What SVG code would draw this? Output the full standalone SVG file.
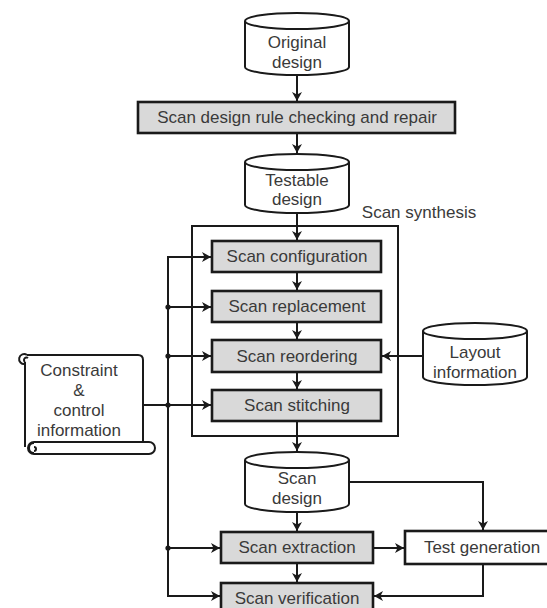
<svg xmlns="http://www.w3.org/2000/svg" width="547" height="608" viewBox="0 0 547 608">
<defs>
<style>
.t{font-family:"Liberation Sans",Arial,sans-serif;font-size:17px;fill:#3a3a3a;text-anchor:middle}
.box{fill:#d9d9d9;stroke:#1a1a1a;stroke-width:2.6}
.wbox{fill:#fff;stroke:#1a1a1a;stroke-width:2.6}
.cyl{fill:#fff;stroke:#1a1a1a;stroke-width:2}
.ln{fill:none;stroke:#1a1a1a;stroke-width:2}
.dot{fill:#1a1a1a}
</style>
<marker id="ah" markerUnits="userSpaceOnUse" markerWidth="10" markerHeight="10" refX="9" refY="5" orient="auto">
<path d="M0,0 L9,5 L0,10 L2.5,5 Z" fill="#1a1a1a"/>
</marker>
</defs>
<rect width="547" height="608" fill="#fff"/>

<g id="scan-synthesis">
<rect x="192" y="226" width="206" height="210" fill="none" stroke="#1a1a1a" stroke-width="2"/>
<text class="t" x="419" y="218">Scan synthesis</text>
</g>

<g id="connectors">
<line class="ln" x1="297" y1="75" x2="297" y2="101" marker-end="url(#ah)"/>
<line class="ln" x1="297" y1="133" x2="297" y2="153" marker-end="url(#ah)"/>
<line class="ln" x1="297" y1="213" x2="297" y2="240" marker-end="url(#ah)"/>
<line class="ln" x1="297" y1="272" x2="297" y2="290" marker-end="url(#ah)"/>
<line class="ln" x1="297" y1="322" x2="297" y2="339" marker-end="url(#ah)"/>
<line class="ln" x1="297" y1="372" x2="297" y2="389" marker-end="url(#ah)"/>
<line class="ln" x1="297" y1="421" x2="297" y2="451" marker-end="url(#ah)"/>
<line class="ln" x1="297" y1="512" x2="297" y2="531" marker-end="url(#ah)"/>
<line class="ln" x1="297" y1="563" x2="297" y2="582" marker-end="url(#ah)"/>
<line class="ln" x1="423" y1="356" x2="382" y2="356" marker-end="url(#ah)"/>
<path class="ln" d="M349,482 H483 V530" marker-end="url(#ah)"/>
<line class="ln" x1="373" y1="548" x2="404" y2="548" marker-end="url(#ah)"/>
<path class="ln" d="M483,564 V596 H374" marker-end="url(#ah)"/>
<path class="ln" d="M168,257 V596 H220" marker-end="url(#ah)"/>
<line class="ln" x1="167" y1="257" x2="211" y2="257" marker-end="url(#ah)"/>
<line class="ln" x1="168" y1="307" x2="211" y2="307" marker-end="url(#ah)"/>
<line class="ln" x1="168" y1="356" x2="211" y2="356" marker-end="url(#ah)"/>
<line class="ln" x1="143" y1="405" x2="211" y2="405" marker-end="url(#ah)"/>
<line class="ln" x1="168" y1="548" x2="220" y2="548" marker-end="url(#ah)"/>
<circle class="dot" cx="168" cy="307" r="2.6"/>
<circle class="dot" cx="168" cy="356" r="2.6"/>
<circle class="dot" cx="168" cy="405" r="2.6"/>
<circle class="dot" cx="168" cy="548" r="2.6"/>
</g>

<g id="original-design">
<path class="cyl" d="M245,21 A52,8 0 0 1 349,21 L349,67 A52,8 0 0 1 245,67 Z M245,21 A52,8 0 0 0 349,21"/>
<text class="t" x="297" y="48">Original</text>
<text class="t" x="297" y="68">design</text>
</g>

<g id="drc">
<rect class="box" x="138" y="102" width="317" height="31"/>
<text class="t" x="297" y="123">Scan design rule checking and repair</text>
</g>

<g id="testable-design">
<path class="cyl" d="M245,162 A52,8 0 0 1 349,162 L349,205 A52,8 0 0 1 245,205 Z M245,162 A52,8 0 0 0 349,162"/>
<text class="t" x="297" y="186">Testable</text>
<text class="t" x="297" y="205">design</text>
</g>

<g id="scan-configuration">
<rect class="box" x="212" y="241" width="169" height="31"/>
<text class="t" x="297" y="262">Scan configuration</text>
</g>

<g id="scan-replacement">
<rect class="box" x="212" y="291" width="169" height="31"/>
<text class="t" x="297" y="312">Scan replacement</text>
</g>

<g id="scan-reordering">
<rect class="box" x="212" y="340" width="169" height="32"/>
<text class="t" x="297" y="362">Scan reordering</text>
</g>

<g id="scan-stitching">
<rect class="box" x="212" y="390" width="169" height="31"/>
<text class="t" x="297" y="411">Scan stitching</text>
</g>

<g id="layout-information">
<path class="cyl" d="M423,331 A52,8 0 0 1 527,331 L527,377 A52,8 0 0 1 423,377 Z M423,331 A52,8 0 0 0 527,331"/>
<text class="t" x="475" y="358">Layout</text>
<text class="t" x="475" y="378">information</text>
</g>

<g id="constraint">
<path class="cyl" d="M25,362 V447 M27,355 H138 Q143,355 143,360 V442"/>
<path class="ln" d="M27,355 A5,5 0 1 0 25,364 M28,358 A2,2 0 0 0 25,362"/>
<rect class="cyl" x="28" y="442" width="127" height="12" rx="6"/>
<path class="ln" d="M34,443 A5,5 0 1 0 34,453 M34,447 A2,2 0 0 1 34,451"/>
<text class="t" x="79" y="376">Constraint</text>
<text class="t" x="79" y="396">&amp;</text>
<text class="t" x="79" y="416">control</text>
<text class="t" x="79" y="436">information</text>
</g>

<g id="scan-design">
<path class="cyl" d="M245,460 A52,8 0 0 1 349,460 L349,504 A52,8 0 0 1 245,504 Z M245,460 A52,8 0 0 0 349,460"/>
<text class="t" x="297" y="484">Scan</text>
<text class="t" x="297" y="504">design</text>
</g>

<g id="scan-extraction">
<rect class="box" x="221" y="532" width="152" height="31"/>
<text class="t" x="297" y="553">Scan extraction</text>
</g>

<g id="test-generation">
<rect class="wbox" x="405" y="531" width="160" height="33"/>
<text class="t" x="482" y="553">Test generation</text>
</g>

<g id="scan-verification">
<rect class="box" x="221" y="583" width="152" height="32"/>
<text class="t" x="297" y="604">Scan verification</text>
</g>
</svg>
